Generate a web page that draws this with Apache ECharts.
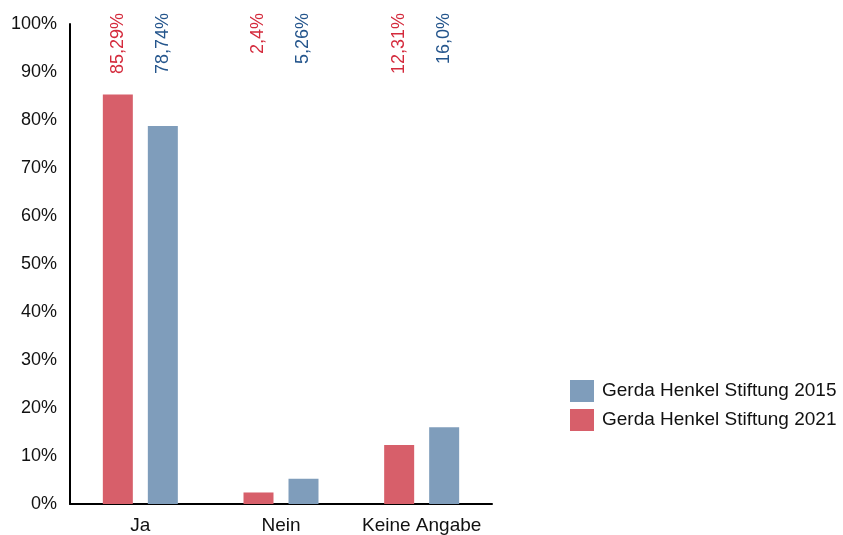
<!DOCTYPE html>
<html><head><meta charset="utf-8">
<script src="https://cdn.jsdelivr.net/npm/echarts@6/dist/echarts.min.js"></script>
<style>html,body{margin:0;padding:0;background:#fff}#c{width:843px;height:535px}</style>
</head><body><div id="c"></div>
<script>
const categories = ['Ja', 'Nein', 'Keine Angabe'];
const values2021 = [85.29, 2.4, 12.31];
const values2015 = [78.74, 5.26, 16.0];
const labels2021 = ['85,29%', '2,4%', '12,31%'];
const labels2015 = ['78,74%', '5,26%', '16,0%'];
const yTicks = [0, 10, 20, 30, 40, 50, 60, 70, 80, 90, 100];
const name2015 = 'Gerda Henkel Stiftung 2015';
const name2021 = 'Gerda Henkel Stiftung 2021';

const FONT = '"Liberation Sans", Arial, sans-serif';
const TOP = yTicks[yTicks.length - 1];
const barW = 30;

function carrier(labels, color) {
  return {
    type: 'bar', xAxisIndex: 1, silent: true, barWidth: barW, barGap: '50%',
    data: labels.map(() => TOP),
    itemStyle: { color: 'rgba(0,0,0,0)' },
    label: {
      show: true, position: 'top', distance: 11, rotate: 90,
      align: 'right', verticalAlign: 'middle',
      formatter: p => labels[p.dataIndex],
      color: color, fontSize: 18, fontFamily: FONT
    },
    tooltip: { show: false }
  };
}

const chart = echarts.init(document.getElementById('c'));
chart.setOption({
  animation: false,
  grid: { left: 70, right: 351, top: 24, bottom: 29 },
  legend: {
    orient: 'vertical', left: 570, top: 380, padding: 0,
    data: [name2015, name2021],
    itemWidth: 24, itemHeight: 22, itemGap: 7,
    textStyle: { fontSize: 19, fontFamily: FONT, color: '#111', padding: [0, 0, 0, 3] },
    icon: 'rect'
  },
  xAxis: [{
    type: 'category', data: categories,
    axisLine: { lineStyle: { color: '#000', width: 2 } },
    axisTick: { show: false },
    axisLabel: { interval: 0, fontSize: 19, fontFamily: FONT, color: '#111', margin: 12 }
  }, {
    type: 'category', data: categories, show: false
  }],
  yAxis: {
    type: 'value', min: 0, max: TOP, interval: 10,
    axisLine: { show: true, lineStyle: { color: '#000', width: 2 } },
    axisTick: { show: false },
    splitLine: { show: false },
    axisLabel: { fontSize: 18, fontFamily: FONT, color: '#111', margin: 13, formatter: v => v + '%' }
  },
  series: [
    { name: name2021, type: 'bar', barWidth: barW, barGap: '50%', data: values2021, itemStyle: { color: '#D75F6A' } },
    { name: name2015, type: 'bar', barWidth: barW, barGap: '50%', data: values2015, itemStyle: { color: '#7F9DBB' } },
    carrier(labels2021, '#D42A3C'),
    carrier(labels2015, '#24558C')
  ]
});
</script></body></html>
